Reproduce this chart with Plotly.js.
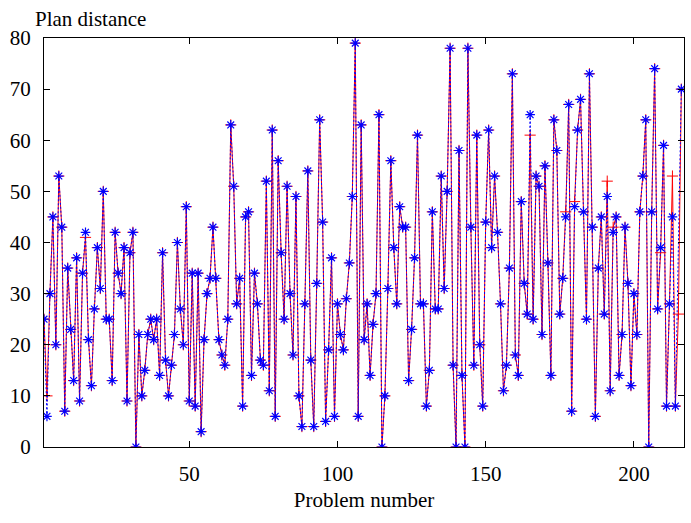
<!DOCTYPE html>
<html>
<head>
<meta charset="utf-8">
<script src="https://cdn.plot.ly/plotly-3.0.1.min.js"></script>
<style>html,body{margin:0;padding:0;background:#fff;}#chart{width:691px;height:523px;}</style>
</head>
<body>
<div id="chart"></div>
<script>
// Plan distance per problem, series 1 (red, "+")
var redPlan = [
 25, 10, 30, 45, 20, 53, 43, 7, 35, 23,
 13, 37, 9, 34, 41, 21, 12, 27, 39, 31,
 50, 25, 25, 13, 42, 34, 30, 39, 9, 38,
 42, 0, 22, 10, 15, 22, 25, 21, 25, 14,
 38, 17, 10, 16, 22, 40, 27, 20, 47, 9,
 34, 8, 34, 3, 21, 30, 33, 43, 33, 21,
 18, 16, 25, 63, 51, 28, 33, 8, 45, 46,
 14, 34, 28, 17, 16, 52, 11, 62, 6, 56,
 38, 25, 51, 30, 18, 49, 10, 4, 28, 54,
 17, 4, 32, 64, 44, 5, 19, 37, 6, 28,
 22, 19, 29, 36, 49, 79, 6, 63, 21, 28,
 14, 24, 30, 65, 0, 10, 31, 56, 39, 28,
 47, 43, 43, 13, 23, 37, 61, 28, 28, 8,
 15, 46, 27, 27, 53, 31, 50, 78, 16, 0,
 58, 14, 0, 78, 43, 16, 61, 20, 8, 44,
 62, 39, 53, 42, 28, 11, 16, 35, 73, 18,
 14, 48, 32, 26, 61, 25, 53, 51, 22, 55,
 36, 14, 64, 58, 26, 33, 46, 67, 7, 48,
 62, 68, 46, 25, 73, 43, 6, 35, 45, 26,
 52, 11, 43, 45, 14, 22, 43, 32, 12, 30,
 22, 46, 53, 64, 0, 46, 74, 27, 38, 59,
 8, 28, 53, 8, 26, 70
];
// Plan distance per problem, series 2 (blue, "*")
var bluePlan = [
 25, 6, 30, 45, 20, 53, 43, 7, 35, 23,
 13, 37, 9, 34, 42, 21, 12, 27, 39, 31,
 50, 25, 25, 13, 42, 34, 30, 39, 9, 38,
 42, 0, 22, 10, 15, 22, 25, 21, 25, 14,
 38, 17, 10, 16, 22, 40, 27, 20, 47, 9,
 34, 8, 34, 3, 21, 30, 33, 43, 33, 21,
 18, 16, 25, 63, 51, 28, 33, 8, 45, 46,
 14, 34, 28, 17, 16, 52, 11, 62, 6, 56,
 38, 25, 51, 30, 18, 49, 10, 4, 28, 54,
 17, 4, 32, 64, 44, 5, 19, 37, 6, 28,
 22, 19, 29, 36, 49, 79, 6, 63, 21, 28,
 14, 24, 30, 65, 0, 10, 31, 56, 39, 28,
 47, 43, 43, 13, 23, 37, 61, 28, 28, 8,
 15, 46, 27, 27, 53, 31, 50, 78, 16, 0,
 58, 14, 0, 78, 43, 16, 61, 20, 8, 44,
 62, 39, 53, 42, 28, 11, 16, 35, 73, 18,
 14, 48, 32, 26, 65, 25, 53, 51, 22, 55,
 36, 14, 64, 58, 26, 33, 45, 67, 7, 47,
 62, 68, 46, 25, 73, 43, 6, 35, 45, 26,
 49, 11, 42, 45, 14, 22, 43, 32, 12, 30,
 22, 46, 53, 64, 0, 46, 74, 27, 39, 59,
 8, 28, 45, 8, null, 70
];
var xTickVals = [50, 100, 150, 200];
var yTickVals = [0, 10, 20, 30, 40, 50, 60, 70, 80];

var problemNumbers = redPlan.map(function (_, i) { return i + 1; });

var font = {family: 'Times New Roman, Liberation Serif, Tinos, DejaVu Serif, serif', size: 21, color: '#000'};

var traces = [
  {
    x: problemNumbers, y: redPlan, type: 'scatter', mode: 'lines+markers',
    line: {color: '#ff0000', width: 1},
    marker: {symbol: 'cross-thin-open', size: 8, color: '#ff0000', line: {color: '#ff0000', width: 1}},
    showlegend: false, hoverinfo: 'x+y'
  },
  {
    x: problemNumbers, y: bluePlan, type: 'scatter', mode: 'lines+markers', connectgaps: true,
    line: {color: '#0000ff', width: 1, dash: '2px,2px'},
    marker: {symbol: 'asterisk-open', size: 8, color: '#0000ff', line: {color: '#0000ff', width: 1.2}},
    showlegend: false, hoverinfo: 'x+y'
  }
];

var layout = {
  width: 691, height: 523,
  margin: {l: 43.6, r: 6.7, t: 38.3, b: 75.5, pad: 0},
  paper_bgcolor: '#fff', plot_bgcolor: '#fff',
  font: font,
  showlegend: false,
  xaxis: {
    range: [1, 216.9], tickvals: xTickVals, ticktext: xTickVals.map(String),
    ticks: 'inside', ticklen: 6, tickcolor: '#000', tickwidth: 1,
    showline: true, linecolor: '#000', linewidth: 1, mirror: 'ticks',
    showgrid: false, zeroline: false,
    ticklabelstandoff: 8,
    tickfont: font,
    title: {text: 'Problem number', font: font, standoff: 7}
  },
  yaxis: {
    range: [0, 80], tickvals: yTickVals, ticktext: yTickVals.map(String),
    ticks: 'inside', ticklen: 6, tickcolor: '#000', tickwidth: 1,
    showline: true, linecolor: '#000', linewidth: 1, mirror: 'ticks',
    showgrid: false, zeroline: false,
    ticklabelstandoff: 8,
    tickfont: font
  },
  annotations: [{
    text: 'Plan distance', xref: 'paper', yref: 'paper',
    x: -0.017, y: 1.047, xanchor: 'left', yanchor: 'middle',
    showarrow: false, font: font
  }]
};

Plotly.newPlot('chart', traces, layout, {displayModeBar: false, staticPlot: true});
</script>
</body>
</html>
